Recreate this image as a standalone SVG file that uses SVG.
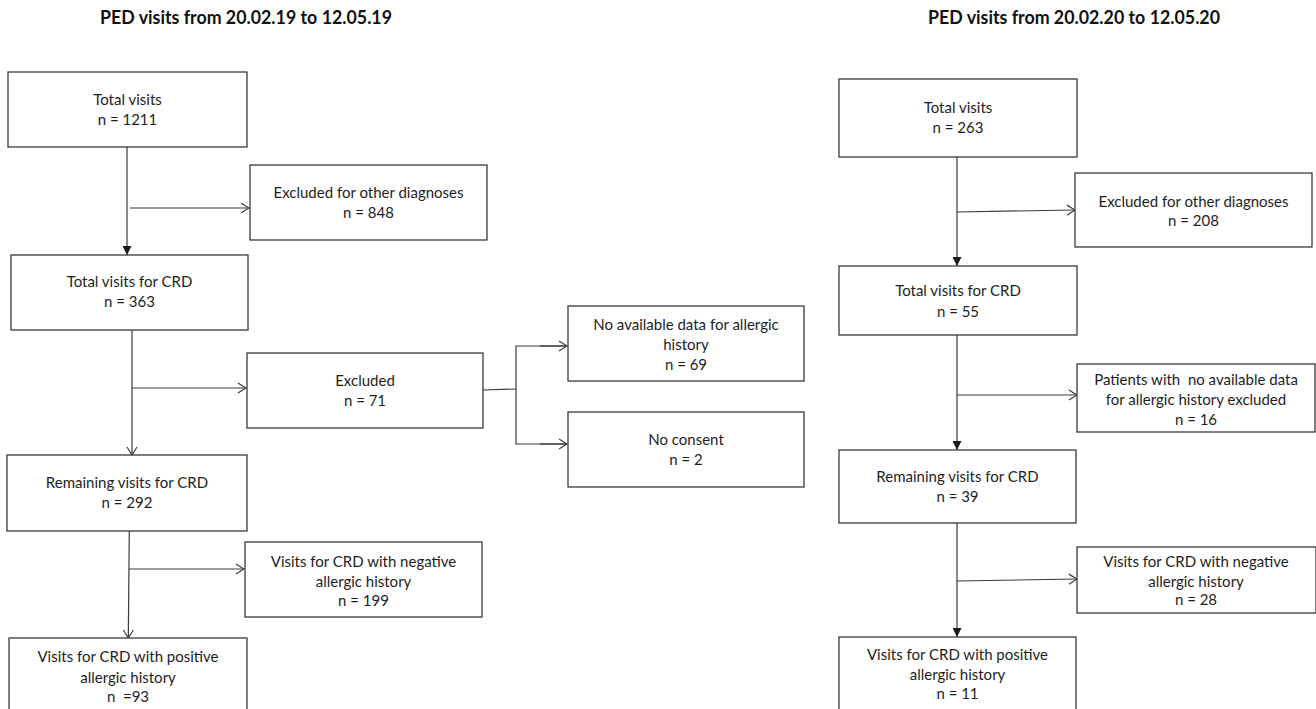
<svg xmlns="http://www.w3.org/2000/svg" width="1316" height="709" viewBox="0 0 1316 709">
<style>
  .box { fill: #ffffff; stroke: #3a3a3a; stroke-width: 1.3; }
  .t { font-family: Lato, "Open Sans", "Liberation Sans", sans-serif; font-size: 15px; fill: #1e1e1e; text-anchor: middle; white-space: pre; }
  .title { font-family: Lato, "Open Sans", "Liberation Sans", sans-serif; font-size: 18px; font-weight: bold; fill: #111111; text-anchor: middle; }
  .c { fill: none; stroke: #3a3a3a; stroke-width: 1.2; }
</style>
<defs>
  <marker id="open" viewBox="0 0 10 12" refX="9" refY="6" markerWidth="10" markerHeight="12" markerUnits="userSpaceOnUse" orient="auto">
    <path d="M1,1 L9,6 L1,11" fill="none" stroke="#3a3a3a" stroke-width="1.2"/>
  </marker>
  <marker id="filled" viewBox="0 0 9 9" refX="9" refY="4.5" markerWidth="9" markerHeight="9" markerUnits="userSpaceOnUse" orient="auto">
    <path d="M0,0 L9,4.5 L0,9 Z" fill="#1a1a1a"/>
  </marker>
</defs>
<rect x="0" y="0" width="1316" height="709" fill="#ffffff"/>

<text class="title" x="246" y="24" textLength="292" lengthAdjust="spacingAndGlyphs">PED visits from 20.02.19 to 12.05.19</text>
<text class="title" x="1074" y="24" textLength="292" lengthAdjust="spacingAndGlyphs">PED visits from 20.02.20 to 12.05.20</text>

<g id="connectors">
  <line class="c" x1="127" y1="147" x2="127" y2="255" marker-end="url(#filled)"/>
  <line class="c" x1="130" y1="208" x2="249" y2="208" marker-end="url(#open)"/>
  <line class="c" x1="132" y1="330" x2="132" y2="455" marker-end="url(#open)"/>
  <line class="c" x1="132" y1="388" x2="246" y2="388" marker-end="url(#open)"/>
  <polyline class="c" points="483,390 516,389"/>
  <polyline class="c" points="567,346 516,346 516,444 567,444"/>
  <line class="c" x1="540" y1="346" x2="567" y2="346" marker-end="url(#open)"/>
  <line class="c" x1="540" y1="444" x2="567" y2="444" marker-end="url(#open)"/>
  <line class="c" x1="129.3" y1="531" x2="128.3" y2="638" marker-end="url(#open)"/>
  <line class="c" x1="129" y1="569" x2="244" y2="569" marker-end="url(#open)"/>

  <line class="c" x1="957" y1="157" x2="957" y2="266" marker-end="url(#filled)"/>
  <line class="c" x1="957" y1="212" x2="1075" y2="210" marker-end="url(#open)"/>
  <line class="c" x1="957" y1="335" x2="957" y2="450" marker-end="url(#filled)"/>
  <line class="c" x1="957" y1="395" x2="1077" y2="395" marker-end="url(#open)"/>
  <line class="c" x1="957" y1="523" x2="957" y2="637" marker-end="url(#filled)"/>
  <line class="c" x1="957" y1="581" x2="1077" y2="579" marker-end="url(#open)"/>
</g>

<g id="l-total">
  <rect class="box" x="8" y="72" width="239" height="75"/>
  <text class="t" x="127.5" y="104.5">Total visits</text>
  <text class="t" x="127.5" y="124.5">n = 1211</text>
</g>
<g id="l-excl-other">
  <rect class="box" x="250" y="165" width="237" height="75"/>
  <text class="t" x="368.5" y="198">Excluded for other diagnoses</text>
  <text class="t" x="368.5" y="218">n = 848</text>
</g>
<g id="l-crd">
  <rect class="box" x="11" y="255" width="237" height="75"/>
  <text class="t" x="129.5" y="287">Total visits for CRD</text>
  <text class="t" x="129.5" y="307">n = 363</text>
</g>
<g id="l-excluded">
  <rect class="box" x="247" y="353" width="236" height="75"/>
  <text class="t" x="365" y="386">Excluded</text>
  <text class="t" x="365" y="406">n = 71</text>
</g>
<g id="l-nodata">
  <rect class="box" x="568" y="306" width="236" height="75"/>
  <text class="t" x="686" y="330">No available data for allergic</text>
  <text class="t" x="686" y="350">history</text>
  <text class="t" x="686" y="370">n = 69</text>
</g>
<g id="l-noconsent">
  <rect class="box" x="568" y="412" width="236" height="75"/>
  <text class="t" x="686" y="445">No consent</text>
  <text class="t" x="686" y="465">n = 2</text>
</g>
<g id="l-remaining">
  <rect class="box" x="7" y="455" width="240" height="76"/>
  <text class="t" x="127" y="488">Remaining visits for CRD</text>
  <text class="t" x="127" y="508">n = 292</text>
</g>
<g id="l-negative">
  <rect class="box" x="245" y="542" width="237" height="75"/>
  <text class="t" x="363.5" y="567">Visits for CRD with negative</text>
  <text class="t" x="363.5" y="586.5">allergic history</text>
  <text class="t" x="363.5" y="606">n = 199</text>
</g>
<g id="l-positive">
  <rect class="box" x="9" y="638" width="238" height="80"/>
  <text class="t" x="128" y="662">Visits for CRD with positive</text>
  <text class="t" x="128" y="683">allergic history</text>
  <text class="t" x="128" y="702">n  =93</text>
</g>

<g id="r-total">
  <rect class="box" x="839" y="79" width="238" height="78"/>
  <text class="t" x="958" y="113">Total visits</text>
  <text class="t" x="958" y="133">n = 263</text>
</g>
<g id="r-excl-other">
  <rect class="box" x="1075" y="173" width="237" height="74"/>
  <text class="t" x="1193.5" y="207">Excluded for other diagnoses</text>
  <text class="t" x="1193.5" y="226">n = 208</text>
</g>
<g id="r-crd">
  <rect class="box" x="839" y="266" width="238" height="69"/>
  <text class="t" x="958" y="296">Total visits for CRD</text>
  <text class="t" x="958" y="317">n = 55</text>
</g>
<g id="r-patients">
  <rect class="box" x="1077" y="364" width="238" height="68"/>
  <text class="t" x="1196" y="385">Patients with  no available data</text>
  <text class="t" x="1196" y="405">for allergic history excluded</text>
  <text class="t" x="1196" y="425">n = 16</text>
</g>
<g id="r-remaining">
  <rect class="box" x="839" y="450" width="237" height="73"/>
  <text class="t" x="957.5" y="482">Remaining visits for CRD</text>
  <text class="t" x="957.5" y="502">n = 39</text>
</g>
<g id="r-negative">
  <rect class="box" x="1077" y="547" width="239" height="66"/>
  <text class="t" x="1196" y="567">Visits for CRD with negative</text>
  <text class="t" x="1196" y="587">allergic history</text>
  <text class="t" x="1196" y="605">n = 28</text>
</g>
<g id="r-positive">
  <rect class="box" x="839" y="637" width="237" height="80"/>
  <text class="t" x="957.5" y="660">Visits for CRD with positive</text>
  <text class="t" x="957.5" y="680">allergic history</text>
  <text class="t" x="957.5" y="699">n = 11</text>
</g>
</svg>
